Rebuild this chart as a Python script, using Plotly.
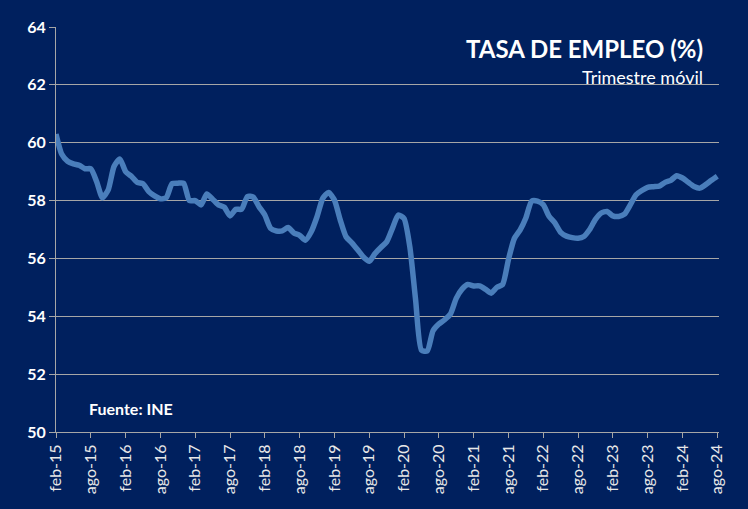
import plotly.graph_objects as go

month_abbr = ["ene", "feb", "mar", "abr", "may", "jun", "jul", "ago", "sep", "oct", "nov", "dic"]
months = []
for k in range(115):
    m = (1 + k) % 12
    y = 15 + (1 + k) // 12
    months.append(f"{month_abbr[m]}-{y:02d}")

tasa_empleo = [
    60.3, 59.6, 59.36, 59.27, 59.22, 59.1, 59.1, 58.66, 58.1, 58.37, 59.18, 59.44,
    59.0, 58.84, 58.63, 58.58, 58.31, 58.16, 58.06, 58.1, 58.58, 58.6, 58.6, 58.0,
    58.0, 57.85, 58.23, 58.05, 57.85, 57.77, 57.47, 57.7, 57.7, 58.14, 58.12, 57.79,
    57.5, 57.04, 56.95, 56.95, 57.07, 56.88, 56.8, 56.63, 56.92, 57.44, 58.08, 58.28,
    58.02, 57.33, 56.75, 56.54, 56.3, 56.05, 55.9, 56.17, 56.38, 56.57, 57.04, 57.5,
    57.38, 56.4, 54.56, 52.83, 52.8, 53.5, 53.73, 53.88, 54.08, 54.62, 54.94, 55.1,
    55.05, 55.05, 54.94, 54.8, 55.0, 55.1, 55.96, 56.68, 56.98, 57.4, 57.98, 57.98,
    57.86, 57.46, 57.23, 56.9, 56.77, 56.72, 56.7, 56.76, 57.0, 57.35, 57.57, 57.62,
    57.47, 57.45, 57.53, 57.85, 58.2, 58.35, 58.46, 58.48, 58.5, 58.63, 58.7, 58.86,
    58.78, 58.63, 58.49, 58.43, 58.55, 58.7, 58.84,
]

tick_labels = months[::6]
y_ticks = [50, 52, 54, 56, 58, 60, 62, 64]

BG = "#00205E"
GRID = "#A6A6A6"
FONT = "Lato"

fig = go.Figure()
fig.add_trace(go.Scatter(
    x=months, y=tasa_empleo, mode="lines",
    line=dict(color="#4A7EBB", width=5.5, shape="spline", smoothing=0.6),
    hoverinfo="skip", showlegend=False,
))

fig.update_layout(
    width=748, height=509,
    paper_bgcolor=BG, plot_bgcolor=BG,
    margin=dict(l=56, r=29, t=27, b=77),
    font=dict(family=FONT, color="white"),
    xaxis=dict(
        type="category", range=[0, 114.3],
        tickvals=tick_labels, ticktext=tick_labels,
        tickangle=-90, tickfont=dict(size=16, color="#E8E8E8", family=FONT),
        showgrid=False, showline=True, linecolor=GRID, linewidth=1,
        ticks="outside", ticklen=5, tickcolor=GRID, zeroline=False,
    ),
    yaxis=dict(
        range=[50, 64], tickvals=y_ticks,
        ticktext=[f"<b>{v}</b>" for v in y_ticks],
        tickfont=dict(size=16, color="white", family=FONT),
        showgrid=True, gridcolor=GRID, gridwidth=1,
        showline=True, linecolor=GRID, linewidth=1,
        ticks="outside", ticklen=6, tickcolor=GRID, zeroline=False,
    ),
    annotations=[
        dict(text="<b>TASA DE EMPLEO (%)</b>", xref="paper", yref="paper",
             x=0.9788, y=0.947, xanchor="right", yanchor="middle", showarrow=False,
             font=dict(size=24, color="white", family=FONT)),
        dict(text="Trimestre móvil", xref="paper", yref="paper",
             x=0.9788, y=0.876, xanchor="right", yanchor="middle", showarrow=False,
             font=dict(size=18, color="white", family=FONT)),
        dict(text="<b>Fuente: INE</b>", xref="paper", yref="paper",
             x=0.0468, y=0.059, xanchor="left", yanchor="middle", showarrow=False,
             font=dict(size=16, color="white", family=FONT)),
    ],
)

fig.write_html(
    "out.html",
    config={"displayModeBar": False},
    post_script="document.body.style.margin='0';document.body.style.background='#00205E';",
)
